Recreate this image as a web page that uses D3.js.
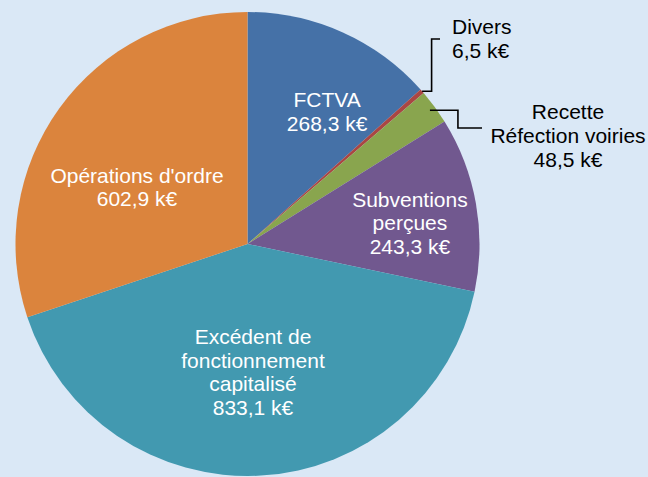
<!DOCTYPE html>
<html>
<head>
<meta charset="utf-8">
<style>
  body { margin: 0; background: #dae8f6; }
  svg { display: block; font-family: "Liberation Sans", Arial, sans-serif; }
  .inlabel { fill: #fff; font-size: 21px; text-anchor: middle; }
  .outlabel { fill: #000; font-size: 21px; }
  .leader { fill: none; stroke: #000; stroke-width: 1.6px; }
</style>
</head>
<body>
<div id="chart"></div>
<script src="https://d3js.org/d3.v7.min.js"></script>
<script>
// data, in drawing order (clockwise from 12 o'clock)
var categories = ["FCTVA", "Divers", "Recette Réfection voiries", "Subventions perçues",
                  "Excédent de fonctionnement capitalisé", "Opérations d'ordre"];
var values = [268.3, 6.5, 48.5, 243.3, 833.1, 602.9];
var labelLines = [
  ["FCTVA", "268,3 k€"],
  ["Divers", "6,5 k€"],
  ["Recette", "Réfection voiries", "48,5 k€"],
  ["Subventions", "perçues", "243,3 k€"],
  ["Excédent de", "fonctionnement", "capitalisé", "833,1 k€"],
  ["Opérations d'ordre", "602,9 k€"]
];
var colors = ["#4571a7", "#aa4643", "#89a54e", "#71588f", "#4299b0", "#db843d"];

var W = 648, H = 477;
var cx = 247.5, cy = 244, R = 232;
var lineH = 23.5;

var svg = d3.select("#chart").append("svg")
  .attr("width", W).attr("height", H);

var g = svg.append("g").attr("transform", "translate(" + cx + "," + cy + ")");

var pie = d3.pie().sort(null).value(function (d) { return d; });
var arcs = pie(values);
var arc = d3.arc().innerRadius(0).outerRadius(R);

g.selectAll("path.slice")
  .data(arcs)
  .enter().append("path")
  .attr("class", "slice")
  .attr("d", arc)
  .attr("fill", function (d, i) { return colors[i]; });

function mid(d) { return (d.startAngle + d.endAngle) / 2; }

// inside labels: radius (fraction of R) and angle shift (deg) from slice middle
var inside = {
  0: { k: 0.666, da: 6.9 },
  3: { k: 0.706, da: 2.6 },
  4: { k: 0.552, da: 0.8 },
  5: { k: 0.536, da: -8.5 }
};

Object.keys(inside).forEach(function (key) {
  var i = +key, o = inside[key];
  var p = d3.pointRadial(mid(arcs[i]) + o.da * Math.PI / 180, o.k * R);
  var lines = labelLines[i];
  var t = g.append("text").attr("class", "inlabel")
    .attr("x", p[0]).attr("y", p[1]);
  lines.forEach(function (s, j) {
    t.append("tspan")
      .attr("x", p[0])
      .attr("y", p[1] + (j - (lines.length - 1) / 2) * lineH)
      .attr("dy", "0.35em")
      .text(s);
  });
});

// outside labels with elbow leader lines
var outside = [
  { i: 1, k: 1.0, elbowX: 9.5, labelY: 39 - cy, endX: 440 - cx, textX: 452 - cx, anchor: "start" },
  { i: 2, k: 0.975, elbowX: 28, labelY: 128 - cy, endX: 482 - cx, textX: 568 - cx, anchor: "middle" }
];

outside.forEach(function (o) {
  var p = d3.pointRadial(mid(arcs[o.i]), o.k * R);
  var ex = p[0] + o.elbowX;
  g.append("path").attr("class", "leader")
    .attr("d", d3.line()([[p[0], p[1]], [ex, p[1]], [ex, o.labelY], [o.endX, o.labelY]]));
  var lines = labelLines[o.i];
  var yc = o.i === 2 ? o.labelY + 8 : o.labelY;
  var t = g.append("text").attr("class", "outlabel")
    .style("text-anchor", o.anchor);
  lines.forEach(function (s, j) {
    t.append("tspan")
      .attr("x", o.textX)
      .attr("y", yc + (j - (lines.length - 1) / 2) * 24)
      .attr("dy", "0.35em")
      .text(s);
  });
});
</script>
</body>
</html>
